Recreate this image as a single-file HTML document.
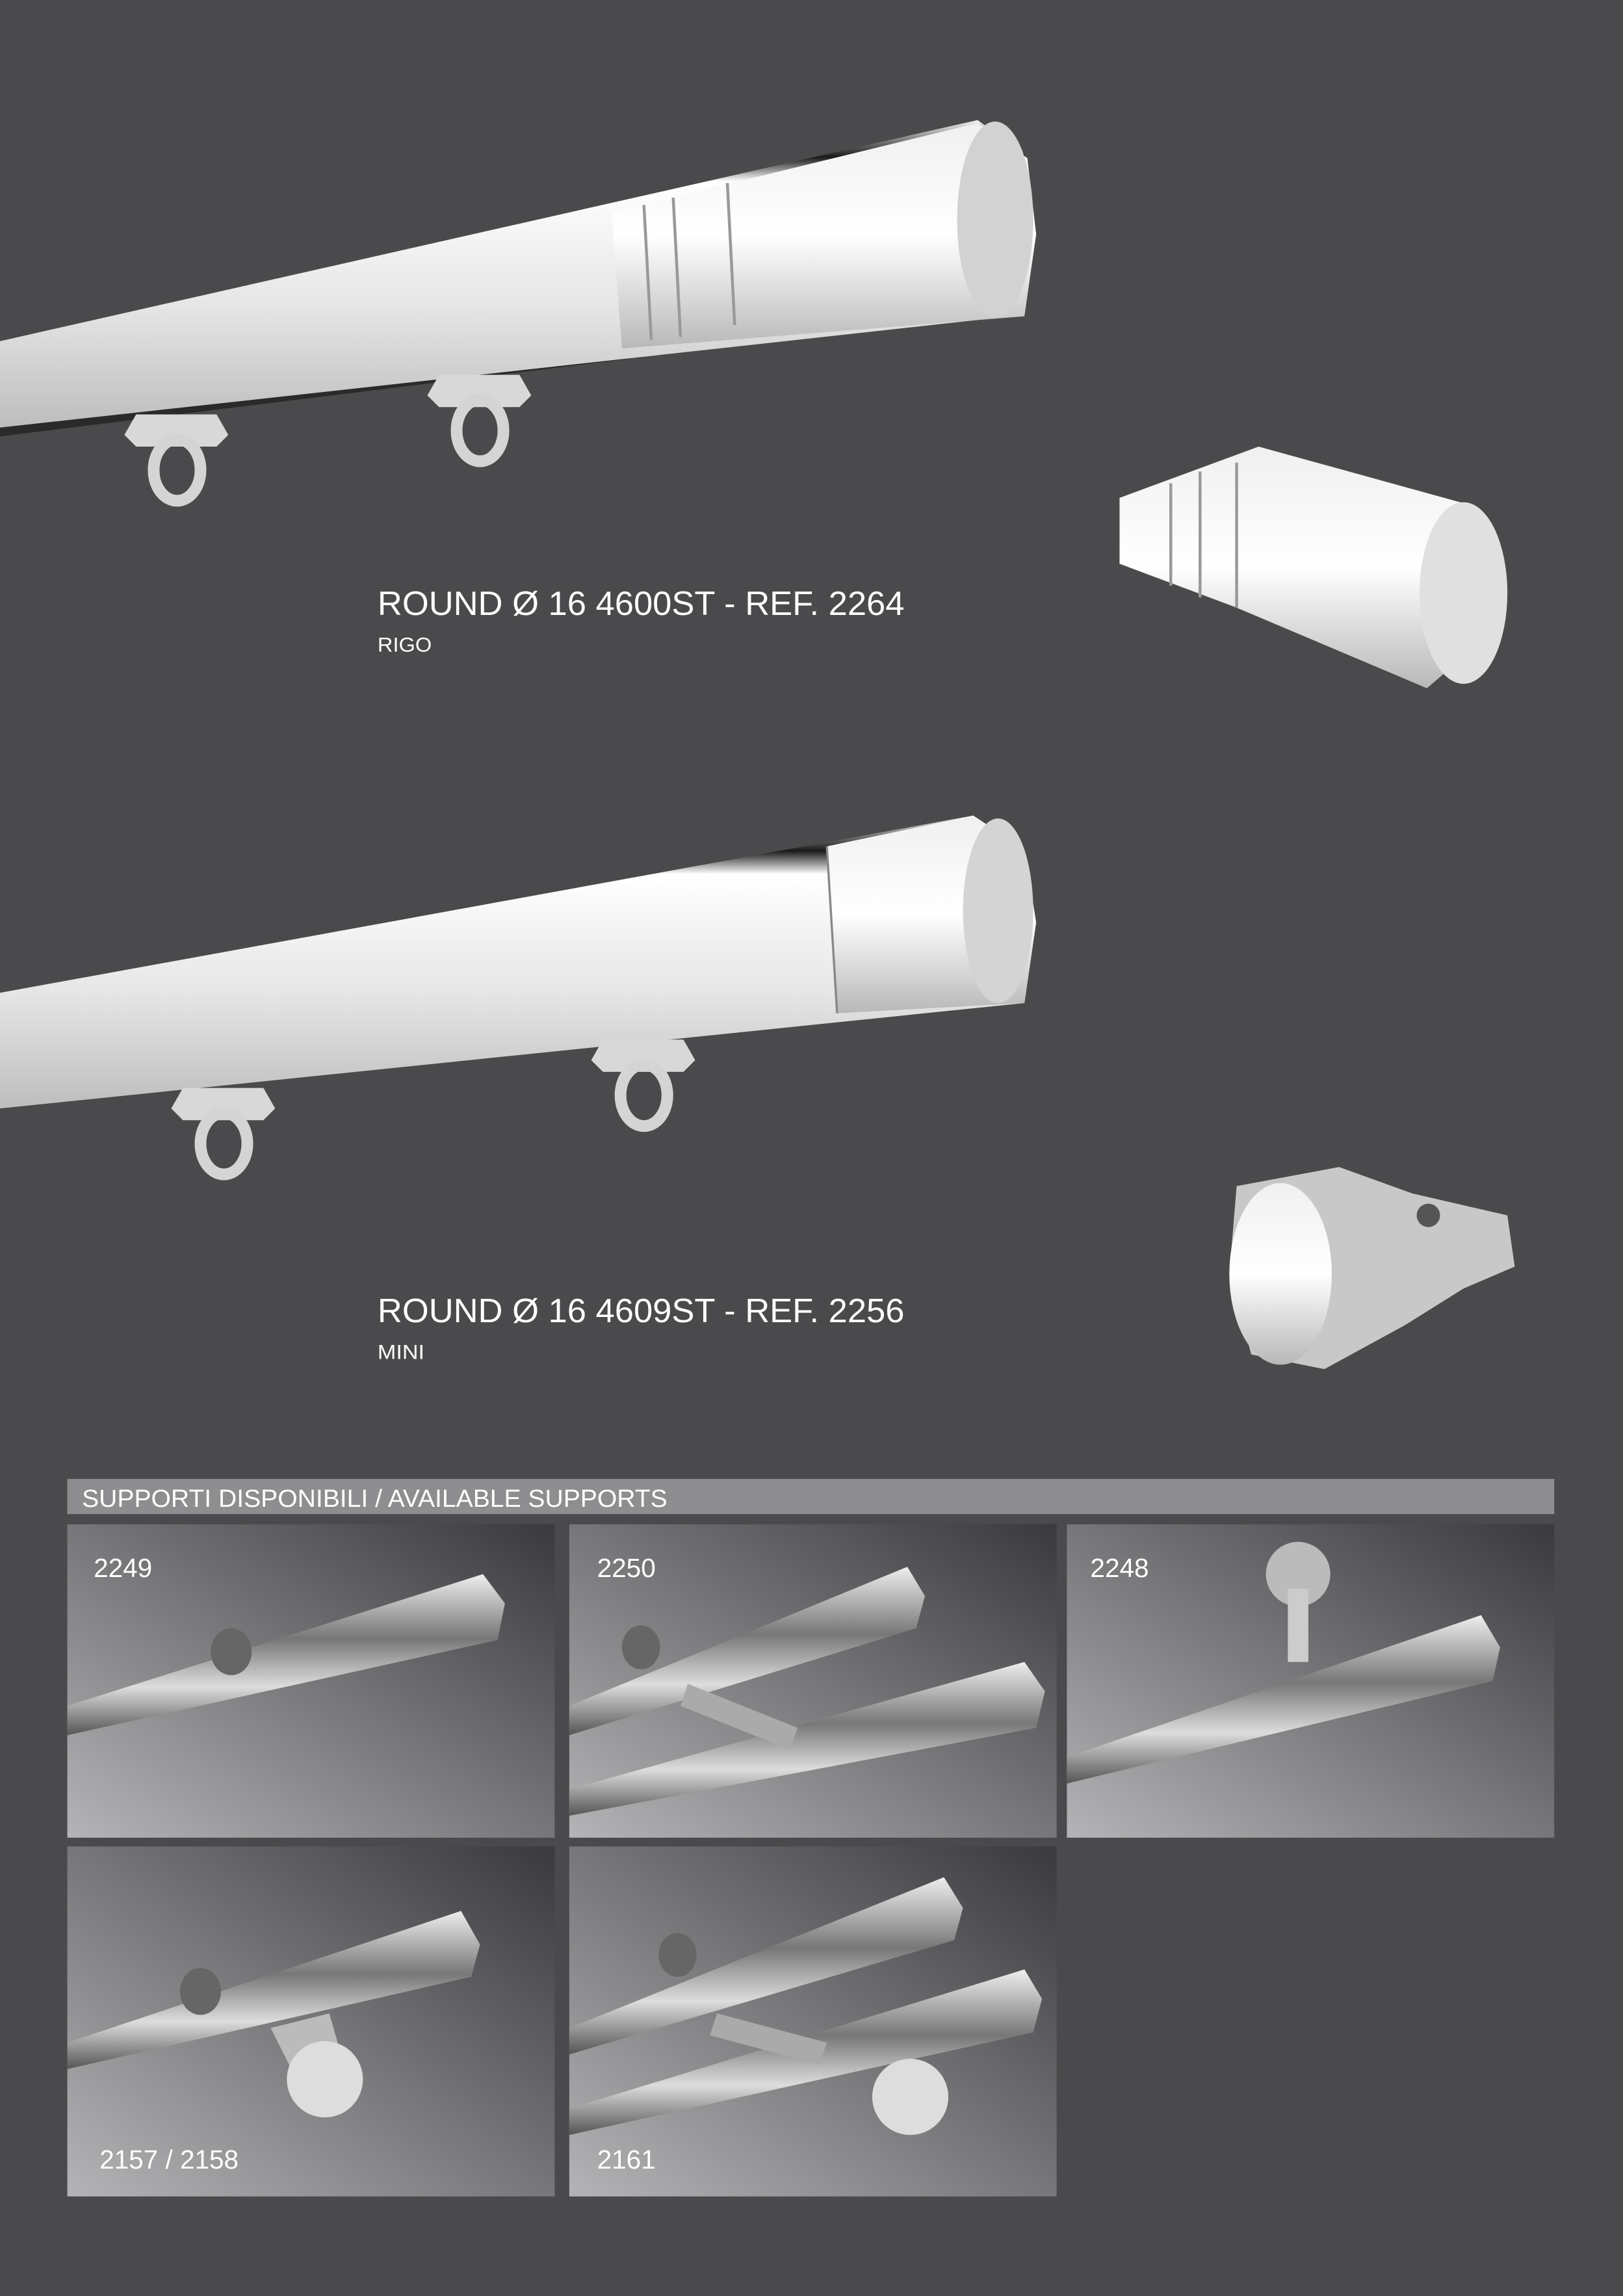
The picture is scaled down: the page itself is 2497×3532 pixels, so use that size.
<!DOCTYPE html>
<html><head><meta charset="utf-8"><style>
html,body{margin:0;padding:0;background:#4a4a4c;}
svg{display:block}
text{font-family:"Liberation Sans",sans-serif;fill:#fff}
</style></head><body>
<svg width="2497" height="3532" viewBox="0 0 1109 1568" preserveAspectRatio="none" xmlns="http://www.w3.org/2000/svg">
<defs>
<linearGradient id="tube" x1="0" y1="0" x2="0" y2="1">
<stop offset="0" stop-color="#f4f4f4"/><stop offset="0.12" stop-color="#1a1a1a"/><stop offset="0.2" stop-color="#ffffff"/><stop offset="0.6" stop-color="#e6e6e6"/><stop offset="1" stop-color="#bdbdbd"/>
</linearGradient>
<linearGradient id="cap" x1="0" y1="0" x2="0" y2="1">
<stop offset="0" stop-color="#f0f0f0"/><stop offset="0.5" stop-color="#ffffff"/><stop offset="1" stop-color="#b8b8b8"/>
</linearGradient>
<linearGradient id="panel" x1="1" y1="0" x2="0" y2="1">
<stop offset="0" stop-color="#3a3a3e"/><stop offset="0.5" stop-color="#77777a"/><stop offset="1" stop-color="#b4b4b6"/>
</linearGradient>
<linearGradient id="rod" x1="0" y1="0" x2="0" y2="1">
<stop offset="0" stop-color="#eee"/><stop offset="0.4" stop-color="#777"/><stop offset="0.7" stop-color="#ddd"/><stop offset="1" stop-color="#555"/>
</linearGradient>
<g id="ring"><path d="M-25,-14 L30,-14 L38,0 L30,8 L-25,8 L-33,0 Z" fill="#d8d8d8"/><ellipse cx="3" cy="24" rx="16" ry="21" fill="none" stroke="#d4d4d4" stroke-width="8"/></g>
</defs>
<rect width="1109" height="1568" fill="#4a4a4c"/>

<!-- rail 1 -->
<polygon points="0,285 430,232 430,245 0,298" fill="#2a2a2a"/>
<polygon points="0,233 668,82 700,105 708,160 700,215 0,292" fill="url(#tube)"/>
<polygon points="418,145 668,84 702,108 708,160 700,216 425,238" fill="url(#cap)"/>
<ellipse cx="680" cy="150" rx="26" ry="67" fill="#d2d2d2"/>
<line x1="440" y1="140" x2="445" y2="232" stroke="#999" stroke-width="2"/>
<line x1="460" y1="135" x2="465" y2="230" stroke="#999" stroke-width="2"/>
<line x1="497" y1="125" x2="502" y2="222" stroke="#999" stroke-width="2"/>
<use href="#ring" x="118" y="297"/>
<use href="#ring" x="325" y="270"/>

<!-- end cap 1 -->
<polygon points="765,340 860,305 1005,345 1030,400 1010,440 975,470 845,415 765,385" fill="url(#cap)"/>
<ellipse cx="1000" cy="405" rx="30" ry="62" fill="#e0e0e0"/>
<line x1="800" y1="330" x2="800" y2="400" stroke="#999" stroke-width="2"/>
<line x1="820" y1="322" x2="820" y2="408" stroke="#999" stroke-width="2"/>
<line x1="845" y1="316" x2="845" y2="415" stroke="#999" stroke-width="2"/>

<text x="258" y="420" font-size="23" textLength="360" lengthAdjust="spacingAndGlyphs">ROUND Ø 16 4600ST - REF. 2264</text>
<text x="258" y="445" font-size="14" textLength="37" lengthAdjust="spacingAndGlyphs" fill="#ddd">RIGO</text>

<!-- rail 2 -->
<polygon points="0,678 665,557 700,580 708,630 700,685 0,757" fill="url(#tube)"/>
<polygon points="565,578 665,557 700,580 708,630 700,685 572,692" fill="url(#cap)"/>
<ellipse cx="682" cy="622" rx="24" ry="63" fill="#d4d4d4"/>
<line x1="565" y1="578" x2="572" y2="692" stroke="#888" stroke-width="1.5"/>
<use href="#ring" x="150" y="757"/>
<use href="#ring" x="437" y="724"/>

<!-- end cap 2 -->
<polygon points="845,810 915,797 965,815 1030,830 1035,865 1000,880 960,905 905,935 855,925 840,870" fill="#c8c8c8"/>
<ellipse cx="875" cy="870" rx="35" ry="62" fill="url(#cap)"/>
<circle cx="976" cy="830" r="8" fill="#555"/>

<text x="258" y="903" font-size="23" textLength="360" lengthAdjust="spacingAndGlyphs">ROUND Ø 16 4609ST - REF. 2256</text>
<text x="258" y="928" font-size="14" textLength="32" lengthAdjust="spacingAndGlyphs" fill="#ddd">MINI</text>

<!-- supports band -->
<rect x="46" y="1010" width="1016" height="24" fill="#8e8e90"/>
<text x="56" y="1029" font-size="17" textLength="400" lengthAdjust="spacingAndGlyphs">SUPPORTI DISPONIBILI / AVAILABLE SUPPORTS</text>

<!-- panels -->
<g>
<rect x="46" y="1041" width="333" height="214" fill="url(#panel)"/>
<rect x="389" y="1041" width="333" height="214" fill="url(#panel)"/>
<rect x="729" y="1041" width="333" height="214" fill="url(#panel)"/>
<rect x="46" y="1261" width="333" height="239" fill="url(#panel)"/>
<rect x="389" y="1261" width="333" height="239" fill="url(#panel)"/>
</g>
<!-- 2249 -->
<polygon points="46,1165 330,1075 345,1095 340,1120 46,1185" fill="url(#rod)"/>
<ellipse cx="158" cy="1128" rx="14" ry="16" fill="#666"/>
<!-- 2250 -->
<polygon points="389,1165 620,1070 632,1090 626,1112 389,1185" fill="url(#rod)"/>
<polygon points="389,1222 700,1135 714,1155 708,1180 389,1240" fill="url(#rod)"/>
<polygon points="470,1150 545,1180 540,1195 465,1165" fill="#aaa"/>
<ellipse cx="438" cy="1125" rx="13" ry="15" fill="#666"/>
<!-- 2248 -->
<circle cx="887" cy="1075" r="22" fill="#bbb"/>
<rect x="880" y="1085" width="14" height="50" fill="#ccc"/>
<polygon points="729,1200 1012,1103 1025,1125 1020,1148 729,1218" fill="url(#rod)"/>
<!-- 2157 -->
<polygon points="46,1395 315,1305 328,1328 322,1350 46,1413" fill="url(#rod)"/>
<ellipse cx="137" cy="1360" rx="14" ry="16" fill="#666"/>
<polygon points="185,1385 225,1375 238,1420 210,1435" fill="#bbb"/>
<circle cx="222" cy="1420" r="26" fill="#ddd"/>
<!-- 2161 -->
<polygon points="389,1385 645,1282 658,1303 652,1325 389,1403" fill="url(#rod)"/>
<polygon points="389,1440 700,1345 712,1365 706,1388 389,1458" fill="url(#rod)"/>
<polygon points="490,1375 565,1395 560,1410 485,1390" fill="#aaa"/>
<ellipse cx="463" cy="1335" rx="13" ry="15" fill="#666"/>
<circle cx="622" cy="1432" r="26" fill="#ddd"/>

<text x="64" y="1077" font-size="18">2249</text>
<text x="408" y="1077" font-size="18">2250</text>
<text x="745" y="1077" font-size="18">2248</text>
<text x="68" y="1481" font-size="18">2157 / 2158</text>
<text x="408" y="1481" font-size="18">2161</text>
</svg>
</body></html>
